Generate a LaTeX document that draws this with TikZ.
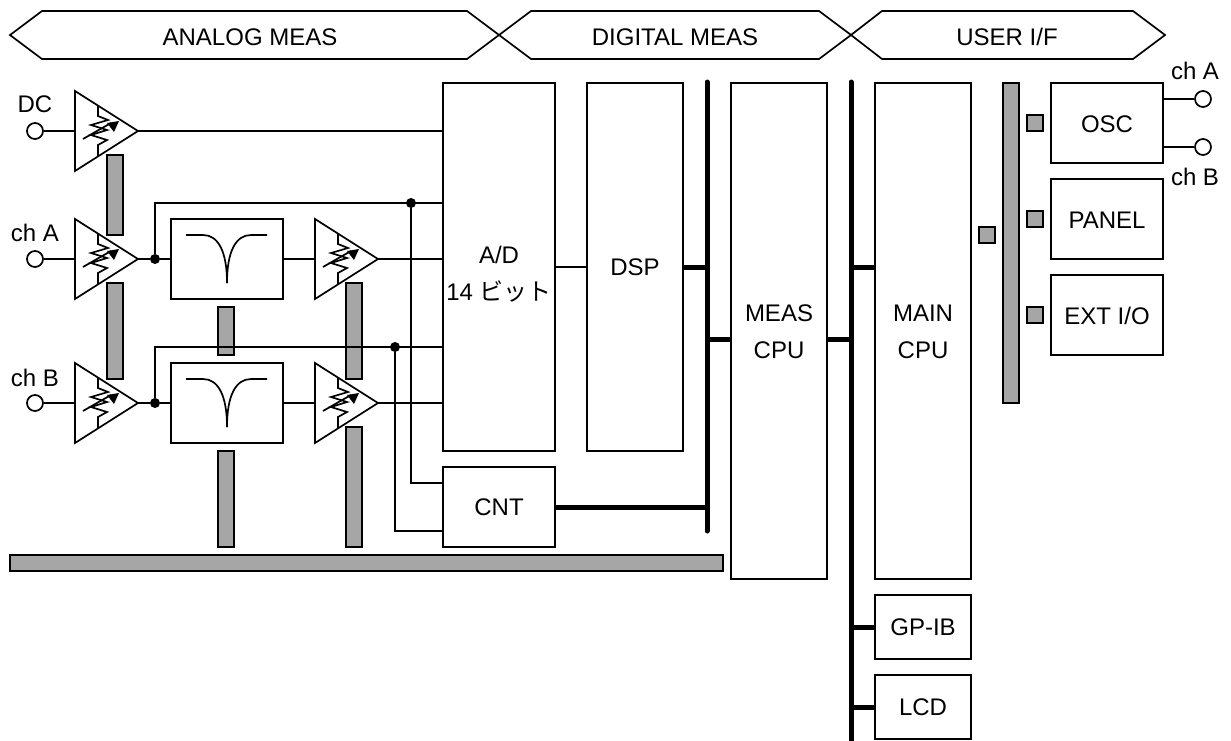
\documentclass[tikz,border=0pt]{standalone}
\usepackage{fontspec}
\setmainfont{Liberation Sans}
\newfontfamily\cjk{Noto Sans CJK JP}
\usetikzlibrary{arrows.meta}
\definecolor{barg}{gray}{0.65}
\tikzset{
 line/.style={line width=0.85pt,line join=miter},
 heavy/.style={line width=2.5pt},
 busline/.style={line width=2.5pt,line cap=round},
 blockbox/.style={draw,line width=0.85pt,fill=white,inner sep=0pt,outer sep=0pt,align=center},
 gbar/.style={draw,line width=0.85pt,fill=barg,inner sep=0pt,outer sep=0pt},
 term/.style={circle,draw,line width=0.85pt,fill=white,minimum size=8pt,inner sep=0pt},
 jdot/.style={circle,fill=black,minimum size=5pt,inner sep=0pt},
 label/.style={inner sep=0pt,align=center,font=\fontsize{12}{18.5}\selectfont},
 tri/.pic={
  \draw[line,fill=white] (0,-40) -- (63,0) -- (0,40) -- cycle;
  \draw[line] (23,-25) -- (23,-15) -- (33,-11) -- (16,-6) -- (32,-1) -- (16,4) -- (32,9) -- (23,14) -- (23,25);
  \draw[line] (8,8) -- (36,-8);
  \fill (44,-10) -- (32,-8) -- (39,1) -- cycle;
 },
 notch/.pic={
  \draw[line] (15,-24) -- (32,-24) .. controls (47,-24) and (56,-8) .. (56,24);
  \draw[line] (96,-24) -- (80,-24) .. controls (65,-24) and (56,-8) .. (56,24);
 }
}
\newcommand{\bx}[6]{\node[#6,minimum width=#4*0.5pt,minimum height=#5*0.5pt,anchor=north west] (#1) at (#2,#3) {};}
\begin{document}
\begin{tikzpicture}[x=0.5pt,y=-0.5pt]
\useasboundingbox (0,0) rectangle (1231,740);
\fill[white] (0,0) rectangle (1231,740);
% band
\draw[line] (499,35) -- (467,11) -- (42,11) -- (10,35) -- (42,59) -- (467,59) -- cycle;
\draw[line] (499,35) -- (531,11) -- (819,11) -- (851,35) -- (819,59) -- (531,59) -- cycle;
\draw[line] (851,35) -- (882,11) -- (1133,11) -- (1165,35) -- (1133,59) -- (882,59) -- cycle;
\node[label] (tana) at (250,37) {ANALOG MEAS};
\node[label] (tdig) at (675,37) {DIGITAL MEAS};
\node[label] (tusr) at (1007,37) {USER I/F};
% blocks
\bx{ad}{443}{83}{112}{368}{blockbox}
\bx{dsp}{587}{83}{96}{368}{blockbox}
\bx{cnt}{443}{467}{112}{80}{blockbox}
\bx{meas}{731}{83}{96}{496}{blockbox}
\bx{main}{875}{83}{96}{496}{blockbox}
\bx{gpib}{875}{595}{96}{64}{blockbox}
\bx{lcd}{875}{675}{96}{64}{blockbox}
\bx{osc}{1051}{83}{112}{80}{blockbox}
\bx{panel}{1051}{179}{112}{80}{blockbox}
\bx{extio}{1051}{275}{112}{80}{blockbox}
\bx{fa}{171}{219}{112}{80}{blockbox}
\bx{fb}{171}{363}{112}{80}{blockbox}
\node[label] (tad) at (499,274) {A/D\\14 {\cjk ビット}};
\node[label] (tdsp) at (635,267) {DSP};
\node[label] (tcnt) at (499,507) {CNT};
\node[label] (tmeas) at (779,332) {MEAS\\CPU};
\node[label] (tmain) at (923,332) {MAIN\\CPU};
\node[label] (tgp) at (923,627) {GP-IB};
\node[label] (tlcd) at (923,707) {LCD};
\node[label] (tosc) at (1107,124) {OSC};
\node[label] (tpan) at (1107,220) {PANEL};
\node[label] (text) at (1107,316) {EXT I/O};
% amps
\coordinate (adc) at (75,131); \coordinate (aa) at (75,259); \coordinate (ab) at (75,403);
\coordinate (oa) at (138,259); \coordinate (ob) at (138,403);
\coordinate (ia2) at (315,259); \coordinate (ib2) at (315,403);
\pic at (adc) {tri};
\pic at (aa) {tri};
\pic at (ab) {tri};
\pic at (ia2) {tri};
\pic at (ib2) {tri};
\pic at (171,259) {notch};
\pic at (171,403) {notch};
% gray bars
\bx{g1}{107}{155}{16}{80}{gbar}
\bx{g2}{107}{283}{16}{96}{gbar}
\bx{g3}{218}{307}{16}{48}{gbar}
\bx{g4}{218}{451}{16}{96}{gbar}
\bx{g5}{346}{283}{16}{96}{gbar}
\bx{g6}{346}{427}{16}{120}{gbar}
\bx{g7}{10}{555}{713}{16}{gbar}
\bx{g8}{1003}{83}{16}{320}{gbar}
\bx{s1}{1027}{115}{16}{16}{gbar}
\bx{s2}{1027}{211}{16}{16}{gbar}
\bx{s3}{1027}{307}{16}{16}{gbar}
\bx{s4}{979}{227}{16}{16}{gbar}
% buses
\coordinate (b1t) at (707,82); \coordinate (b1b) at (707,531);
\coordinate (b2t) at (851,82); \coordinate (b2b) at (851,742);
\draw[busline] (b1t) -- (b1b);
\draw[busline] (b2t) -- (b2b);
\draw[heavy] (dsp.east |- 0,267) -- (707,267);
\draw[heavy] (cnt.east) -- (707,507);
\draw[heavy] (707,339) -- (meas.west |- 0,339);
\draw[heavy] (meas.east |- 0,339) -- (851,339);
\draw[heavy] (851,267) -- (main.west |- 0,267);
\draw[heavy] (851,627) -- (gpib.west);
\draw[heavy] (851,707) -- (lcd.west);
\draw[line] (ad.east |- 0,267) -- (dsp.west |- 0,267);
% signal lines
\node[term] (tdc) at (35,131) {};
\node[term] (ta) at (35,259) {};
\node[term] (tb) at (35,403) {};
\node[jdot] (ja) at (155,259) {};
\node[jdot] (jb) at (155,403) {};
\node[jdot] (j2a) at (411,203) {};
\node[jdot] (j2b) at (395,347) {};
\draw[line] (tdc) -- (adc);
\draw[line] (ta) -- (aa);
\draw[line] (tb) -- (ab);
\draw[line] (138,131) -- (ad.west |- 0,131);
\draw[line] (oa) -- (ja) -- (fa.west);
\draw[line] (ob) -- (jb) -- (fb.west);
\draw[line] (fa.east) -- (ia2);
\draw[line] (fb.east) -- (ib2);
\draw[line] (378,259) -- (ad.west |- 0,259);
\draw[line] (378,403) -- (ad.west |- 0,403);
\draw[line] (ja) |- (ad.west |- 0,203);
\draw[line] (jb) |- (ad.west |- 0,347);
\draw[line] (j2a) |- (cnt.west |- 0,483);
\draw[line] (j2b) |- (cnt.west |- 0,531);
% right terminals
\node[term] (oa1) at (1203,99) {};
\node[term] (ob1) at (1203,147) {};
\draw[line] (osc.east |- oa1) -- (oa1);
\draw[line] (osc.east |- ob1) -- (ob1);
% labels
\node[label] (ldc) at (35,104) {DC};
\node[label] (lca) at (35,233) {ch A};
\node[label] (lcb) at (35,378) {ch B};
\node[label] (rca) at (1195,71) {ch A};
\node[label] (rcb) at (1195,177) {ch B};
\end{tikzpicture}
\end{document}
